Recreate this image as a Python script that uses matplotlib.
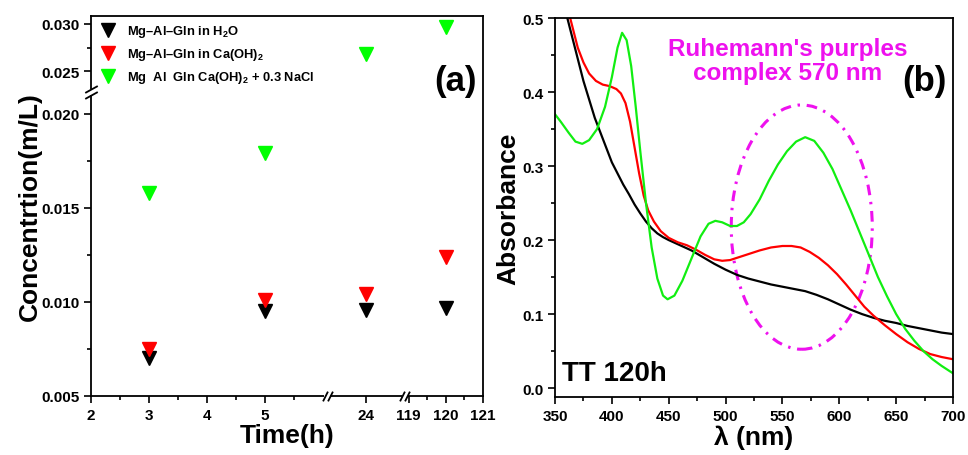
import numpy as np
import matplotlib
matplotlib.use("Agg")
import matplotlib.pyplot as plt
from matplotlib.patches import Ellipse
from matplotlib.transforms import blended_transform_factory, offset_copy

plt.rcParams["font.family"] = ["Liberation Sans", "DejaVu Sans"]
plt.rcParams["font.weight"] = "bold"
plt.rcParams["axes.labelweight"] = "bold"
plt.rcParams["mathtext.fontset"] = "custom"
plt.rcParams["mathtext.rm"] = "Liberation Sans:bold"
plt.rcParams["mathtext.it"] = "Liberation Sans:bold"
plt.rcParams["mathtext.bf"] = "Liberation Sans:bold"

# ── panel (a) data ──────────────────────────────────────────
time_h = [3, 5, 24, 120]
conc_h2o = [0.0070, 0.0095, 0.0096, 0.0097]
conc_caoh = [0.0075, 0.0101, 0.0104, 0.0124]
conc_nacl = [0.0158, 0.0179, 0.0268, 0.0297]
labels_a = [r"Mg–Al–Gln in H$_2$O",
            r"Mg–Al–Gln in Ca(OH)$_2$",
            r"Mg  Al  Gln Ca(OH)$_2$ + 0.3 NaCl"]
xticks_a = [2, 3, 4, 5, 24, 119, 120, 121]
xminor_a = [2.5, 3.5, 4.5, 5.5, 119.5, 120.5]
yticks_a = [0.005, 0.010, 0.015, 0.020, 0.025, 0.030]
yminor_a = [0.0075, 0.0125, 0.0175, 0.0275]

# broken axes: data breakpoints -> linear positions
XB = [2, 6.07, 23, 25, 118.9, 121]
XP = [0, 236, 236.01, 314, 314.01, 392]
YB = [0.005, 0.02117, 0.02277, 0.03085]
YP = [0, 304, 304.01, 380]

# ── panel (b) data ──────────────────────────────────────────
wl_black = [350, 355, 360, 365, 370, 375, 380, 385, 390, 395, 400, 405, 410,
            415, 420, 425, 430, 435, 440, 445, 450, 460, 470, 480, 490, 500,
            510, 520, 530, 540, 550, 560, 570, 580, 590, 600, 610, 620, 630,
            640, 650, 660, 670, 680, 690, 700]
abs_black = [0.565, 0.535, 0.505, 0.475, 0.445, 0.415, 0.39, 0.365, 0.345,
             0.325, 0.305, 0.29, 0.275, 0.262, 0.248, 0.236, 0.225, 0.216,
             0.209, 0.204, 0.2, 0.193, 0.186, 0.177, 0.168, 0.16, 0.153,
             0.148, 0.144, 0.14, 0.137, 0.134, 0.131, 0.126, 0.12, 0.113,
             0.106, 0.1, 0.095, 0.091, 0.088, 0.084, 0.081, 0.078, 0.075,
             0.073]
wl_red = [350, 355, 360, 365, 370, 375, 380, 386, 392, 398, 404, 408, 412,
          416, 420, 424, 428, 432, 437, 443, 450, 458, 466, 474, 482, 490,
          497, 504, 512, 520, 530, 540, 550, 558, 566, 574, 582, 590, 598,
          606, 614, 622, 630, 640, 650, 660, 670, 680, 690, 700]
abs_red = [0.58, 0.55, 0.52, 0.49, 0.46, 0.44, 0.425, 0.415, 0.41, 0.408,
           0.404, 0.398, 0.385, 0.36, 0.325, 0.29, 0.26, 0.24, 0.225, 0.212,
           0.203, 0.197, 0.193, 0.187, 0.18, 0.174, 0.172, 0.173, 0.177,
           0.181, 0.186, 0.19, 0.192, 0.192, 0.19, 0.184, 0.176, 0.166,
           0.154, 0.14, 0.125, 0.11, 0.098, 0.085, 0.073, 0.062, 0.053,
           0.046, 0.042, 0.039]
wl_green = [350, 355, 362, 368, 374, 380, 387, 394, 400, 405, 409, 413, 417,
            421, 425, 430, 435, 440, 445, 449, 455, 462, 470, 478, 485, 491,
            497, 504, 510, 516, 522, 530, 538, 546, 554, 562, 570, 578, 586,
            594, 602, 610, 618, 626, 634, 642, 650, 658, 666, 674, 682, 690,
            700]
abs_green = [0.37, 0.36, 0.345, 0.333, 0.33, 0.335, 0.35, 0.38, 0.42, 0.46,
             0.48, 0.47, 0.435, 0.38, 0.32, 0.25, 0.19, 0.148, 0.125, 0.12,
             0.125, 0.145, 0.175, 0.205, 0.222, 0.226, 0.224, 0.219, 0.219,
             0.224, 0.235, 0.255, 0.28, 0.302, 0.32, 0.333, 0.339, 0.334,
             0.318, 0.296, 0.268, 0.24, 0.21, 0.18, 0.15, 0.124, 0.10, 0.08,
             0.064, 0.05, 0.039, 0.03, 0.02]
ellipse_center = (567, 0.2175)
ellipse_size = (124, 0.33)

BLACK, RED, GREEN, MAGENTA = "#000000", "#FF0000", "#11EE11", "#EE11EE"

fig = plt.figure(figsize=(9.68, 4.56), dpi=100)
ax1 = fig.add_axes([91 / 968, 1 - 397 / 456, 392 / 968, 380 / 456])
ax2 = fig.add_axes([555 / 968, 1 - 398 / 456, 398 / 968, 379 / 456])

for ax in (ax1, ax2):
    for s in ax.spines.values():
        s.set_linewidth(1.3)
    ax.tick_params(which="both", direction="out", width=1.2, labelsize=11,
                   top=False, right=False)
    ax.tick_params(which="major", length=5)
    ax.tick_params(which="minor", length=3)

# ─────────────────────────────────────────────────────────────
# (a) concentration vs time
# ─────────────────────────────────────────────────────────────
ax1.set_xscale("function", functions=(lambda x: np.interp(x, XB, XP),
                                      lambda p: np.interp(p, XP, XB)))
ax1.set_yscale("function", functions=(lambda y: np.interp(y, YB, YP),
                                      lambda p: np.interp(p, YP, YB)))
ax1.set_xlim(XB[0], XB[-1])
ax1.set_ylim(YB[0], YB[-1])

for vals, col, lab in zip([conc_h2o, conc_caoh, conc_nacl],
                          [BLACK, RED, "#00FF00"], labels_a):
    ax1.plot(time_h, vals, ls="none", marker="v", ms=10.5, color=col,
             mec=col, label=lab)

ax1.set_xticks(xticks_a)
ax1.set_xticklabels([str(t) for t in xticks_a])
ax1.set_xticks(xminor_a, minor=True)
ax1.set_yticks(yticks_a)
ax1.set_yticklabels([f"{v:.3f}" for v in yticks_a])
ax1.set_yticks(yminor_a, minor=True)
ax1.set_xlabel("Time(h)", fontsize=19, labelpad=1)
ax1.set_ylabel("Concentrtion(m/L)", fontsize=19, labelpad=-1)

ax1.legend(loc="upper left", frameon=False, fontsize=9.3, markerscale=0.95,
           handletextpad=0.6, labelspacing=0.55, borderaxespad=0.15,
           borderpad=0.4, handlelength=1.6)
ax1.text(0.985, 0.829, "(a)", transform=ax1.transAxes, ha="right",
         va="center", fontsize=25)

# break marks
xb_tr = blended_transform_factory(ax1.transData, ax1.transAxes)
for xb in (XB[1], XB[3]):
    ax1.plot([xb], [0], marker="_", ms=5, mew=3, color="white",
             transform=xb_tr, clip_on=False, zorder=5)
    for dx in (-2.5, 2.5):
        ax1.plot([xb], [0], marker=[(-0.5, -1), (0.5, 1)], ms=7, mew=1.3,
                 color=BLACK, mec=BLACK,
                 transform=offset_copy(xb_tr, fig, x=dx, units="dots"),
                 clip_on=False, zorder=6)
yb_tr = blended_transform_factory(ax1.transAxes, ax1.transData)
ax1.plot([0], [YB[1]], marker="|", ms=5, mew=3, color="white",
         transform=yb_tr, clip_on=False, zorder=5)
for dy in (-3, 3):
    ax1.plot([0], [YB[1]], marker=[(-1, -0.55), (1, 0.55)], ms=9, mew=1.3,
             color=BLACK, mec=BLACK,
             transform=offset_copy(yb_tr, fig, y=dy, units="dots"),
             clip_on=False, zorder=6)

# ─────────────────────────────────────────────────────────────
# (b) absorbance spectra
# ─────────────────────────────────────────────────────────────
ax2.plot(wl_black, abs_black, color=BLACK, lw=1.6)
ax2.plot(wl_red, abs_red, color=RED, lw=1.6)
ax2.plot(wl_green, abs_green, color=GREEN, lw=1.6)
ax2.add_patch(Ellipse(ellipse_center, ellipse_size[0], ellipse_size[1],
                      fill=False, ec=MAGENTA, lw=2.2,
                      ls=(0, (3.5, 2.2, 0.8, 2.2))))

ax2.set_xlim(350, 700)
ax2.set_ylim(-0.012, 0.5)
ax2.set_xticks(np.arange(350, 701, 50))
ax2.set_xticks(np.arange(375, 700, 50), minor=True)
ax2.set_yticks([0.0, 0.1, 0.2, 0.3, 0.4, 0.5])
ax2.set_yticks([0.05, 0.15, 0.25, 0.35, 0.45], minor=True)
ax2.set_yticklabels(["0.0", "0.1", "0.2", "0.3", "0.4", "0.5"])
ax2.set_xlabel("λ (nm)", fontsize=19, labelpad=1)
ax2.set_ylabel("Absorbance", fontsize=19, labelpad=1)

ax2.text(0.585, 0.889, "Ruhemann's purples\ncomplex 570 nm",
         transform=ax2.transAxes, ha="center", va="center", fontsize=17.5,
         color=MAGENTA, linespacing=1.05)
ax2.text(0.985, 0.834, "(b)", transform=ax2.transAxes, ha="right",
         va="center", fontsize=25)
ax2.text(0.018, 0.03, "TT 120h", transform=ax2.transAxes, ha="left",
         va="bottom", fontsize=20)

fig.savefig("out.png", dpi=100)
